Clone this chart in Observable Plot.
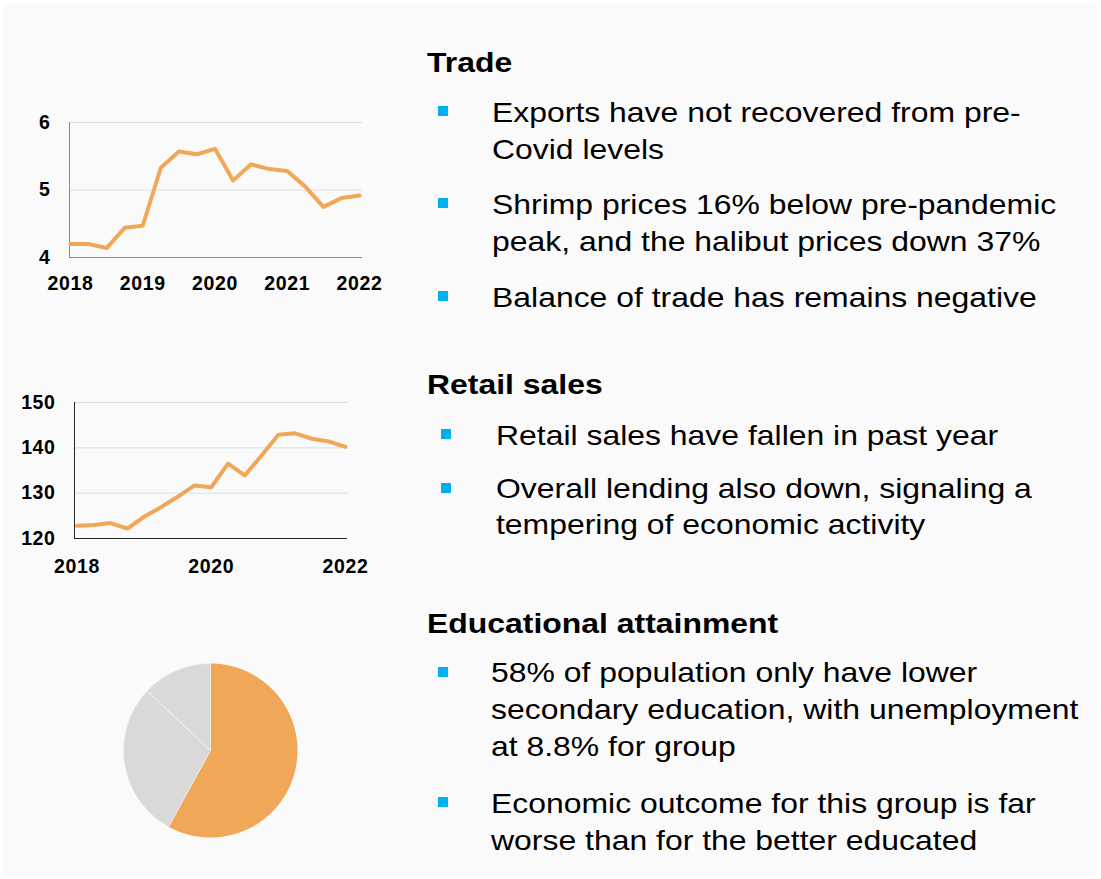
<!DOCTYPE html>
<html><head><meta charset="utf-8">
<script src="https://cdn.jsdelivr.net/npm/d3@7"></script>
<script src="https://cdn.jsdelivr.net/npm/@observablehq/plot@0.6"></script>
<style>
html,body{margin:0;padding:0;background:#fff;}
#page{position:relative;width:1101px;height:879px;overflow:hidden;font-family:"Liberation Sans",Arial,sans-serif;}
#panel{position:absolute;left:3px;top:4px;width:1094px;height:872px;background:#fafafa;}
.t{position:absolute;white-space:nowrap;font-size:28px;line-height:37px;color:#000;transform:scaleX(1.14);transform-origin:0 0;}
.h{font-weight:bold;}
.b{position:absolute;width:10px;height:10px;background:#00b0f0;}
.chart{position:absolute;}
.chart svg{background:transparent;overflow:visible;font-family:"Liberation Sans",Arial,sans-serif;}
.chart text{letter-spacing:0.6px;}
</style></head><body>
<div id="page"><div id="panel"></div>
<div id="c1" class="chart" style="left:0;top:95px;"></div>
<div id="c2" class="chart" style="left:0;top:380px;"></div>
<div id="c3" class="chart" style="left:100px;top:640px;"></div>

<div class="t h" style="left:427px;top:44px;">Trade</div>
<div class="b" style="left:437.5px;top:105.5px;"></div>
<div class="t" style="left:491.6px;top:93.5px;line-height:37.6px;">Exports have not recovered from pre-<br>Covid levels</div>
<div class="b" style="left:437.5px;top:198px;"></div>
<div class="t" style="left:491.6px;top:185.8px;line-height:37.6px;">Shrimp prices 16% below pre-pandemic<br>peak, and the halibut prices down 37%</div>
<div class="b" style="left:437.5px;top:290.5px;"></div>
<div class="t" style="left:491.6px;top:278.5px;">Balance of trade has remains negative</div>

<div class="t h" style="left:427px;top:366px;">Retail sales</div>
<div class="b" style="left:440.5px;top:429px;"></div>
<div class="t" style="left:495.8px;top:416.8px;">Retail sales have fallen in past year</div>
<div class="b" style="left:440.5px;top:483.3px;"></div>
<div class="t" style="left:495.8px;top:471.4px;line-height:35.7px;">Overall lending also down, signaling a<br>tempering of economic activity</div>

<div class="t h" style="left:427px;top:605px;">Educational attainment</div>
<div class="b" style="left:437.5px;top:667.3px;"></div>
<div class="t" style="left:490.5px;top:655.1px;line-height:36.7px;">58% of population only have lower<br>secondary education, with unemployment<br>at 8.8% for group</div>
<div class="b" style="left:437.5px;top:796.7px;"></div>
<div class="t" style="left:490.5px;top:784.5px;line-height:37.3px;">Economic outcome for this group is far<br>worse than for the better educated</div>
</div>
<script>
// ---- data ----
const quarters = [2018.00, 2018.25, 2018.50, 2018.75, 2019.00, 2019.25, 2019.50, 2019.75, 2020.00, 2020.25, 2020.50, 2020.75, 2021.00, 2021.25, 2021.50, 2021.75, 2022.00];
const tradeValues = [4.20, 4.20, 4.14, 4.44, 4.47, 5.33, 5.57, 5.53, 5.61, 5.14, 5.38, 5.31, 5.28, 5.05, 4.75, 4.88, 4.92];
const retailValues = [122.8, 123.0, 123.4, 122.2, 124.8, 126.9, 129.2, 131.7, 131.3, 136.5, 133.9, 138.3, 142.9, 143.2, 142.0, 141.4, 140.2];
const tradeXTicks = [2018, 2019, 2020, 2021, 2022];
const tradeYTicks = [4, 5, 6];
const retailXTicks = [2018, 2020, 2022];
const retailYTicks = [120, 130, 140, 150];
const eduGroups = ["Lower secondary or less", "Upper secondary", "Tertiary"];
const eduShares = [58, 29, 13];
const eduColors = ["#f1a758", "#d9d9d9", "#d9d9d9"];
const lineColor = "#f1a758";

const trade = quarters.map((q, i) => ({q, v: tradeValues[i]}));
const retail = quarters.map((q, i) => ({q, v: retailValues[i]}));
const axisFont = {fontSize: 19.5, fontWeight: "bold", fill: "#000"};
const svgStyle = {fontFamily: "Liberation Sans, Arial, sans-serif", background: "transparent", overflow: "visible"};

// ---- chart 1: trade ----
const c1 = Plot.plot({
  width: 380, height: 210,
  marginLeft: 69, marginRight: 18, marginTop: 27, marginBottom: 48,
  style: svgStyle,
  x: {domain: [2018, 2022], insetLeft: 1, insetRight: 3},
  y: {domain: [4, 6]},
  marks: [
    Plot.ruleY([5, 6], {stroke: "#d9dee6", strokeWidth: 1}),
    Plot.ruleY([4], {stroke: "#8c8c8c", strokeWidth: 1}),
    Plot.ruleX([2018], {y1: 4, y2: 6, dx: -1, stroke: "#8c8c8c", strokeWidth: 1}),
    Plot.line(trade, {x: "q", y: "v", stroke: lineColor, strokeWidth: 4, strokeLinejoin: "round"}),
    Plot.axisX(tradeXTicks, {tickSize: 0, tickPadding: 19, tickFormat: d => String(d), label: null, ...axisFont}),
    Plot.axisY(tradeYTicks, {tickSize: 0, tickPadding: 19, tickFormat: d => String(d), label: null, ...axisFont})
  ]
});
document.getElementById("c1").append(c1);

// ---- chart 2: retail ----
const c2 = Plot.plot({
  width: 370, height: 210,
  marginLeft: 74, marginRight: 23, marginTop: 22, marginBottom: 52,
  style: svgStyle,
  x: {domain: [2018, 2022], insetLeft: 2.5, insetRight: 2},
  y: {domain: [120, 150]},
  marks: [
    Plot.ruleY([130, 140, 150], {stroke: "#d9dee6", strokeWidth: 1}),
    Plot.ruleY([120], {stroke: "#262626", strokeWidth: 1}),
    Plot.ruleX([2018], {y1: 120, y2: 150, dx: -2.5, stroke: "#262626", strokeWidth: 1}),
    Plot.line(retail, {x: "q", y: "v", stroke: lineColor, strokeWidth: 4, strokeLinejoin: "round"}),
    Plot.axisX(retailXTicks, {tickSize: 0, tickPadding: 20.5, tickFormat: d => String(d), label: null, ...axisFont}),
    Plot.axisY(retailYTicks, {tickSize: 0, tickPadding: 19, tickFormat: d => String(d), label: null, ...axisFont})
  ]
});
document.getElementById("c2").append(c2);

// ---- chart 3: pie ----
const arcs = d3.pie().sort(null).value(d => d)(eduShares);
const pieRows = [];
arcs.forEach((a, i) => {
  pieRows.push({slice: i, x: 0, y: 0});
  const n = Math.max(2, Math.ceil((a.endAngle - a.startAngle) / 0.01));
  for (let k = 0; k <= n; k++) {
    const t = a.startAngle + (a.endAngle - a.startAngle) * k / n;
    pieRows.push({slice: i, x: Math.sin(t), y: Math.cos(t)});
  }
  pieRows.push({slice: i, x: 0, y: 0});
});
const R = 110 / 87;
const c3 = Plot.plot({
  width: 220, height: 220,
  margin: 0,
  style: svgStyle,
  x: {domain: [-R, R], axis: null},
  y: {domain: [-R, R], axis: null},
  marks: [
    Plot.line(pieRows, {x: "x", y: "y", z: "slice", fill: d => eduColors[d.slice], stroke: d => d.slice === 0 ? "none" : "#f2f2f2", strokeWidth: 0.8, curve: "linear"})
  ]
});
document.getElementById("c3").append(c3);
</script>
</body></html>
